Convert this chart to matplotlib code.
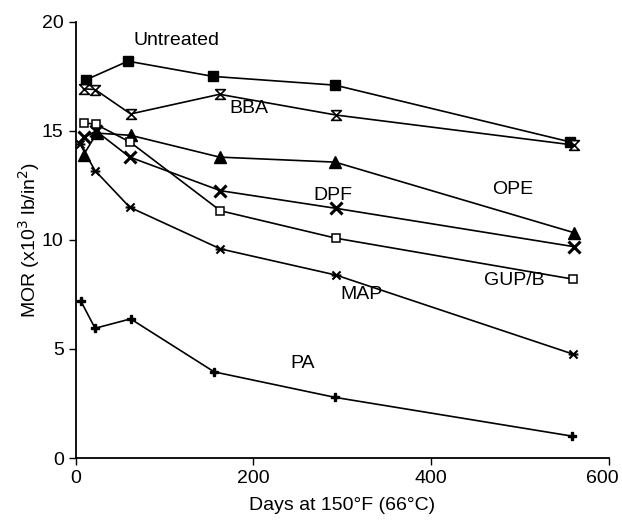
import matplotlib
matplotlib.use("Agg")
import matplotlib.pyplot as plt
import matplotlib.transforms as mtransforms
from matplotlib.path import Path

plt.rcParams['font.family'] = ['Liberation Sans', 'DejaVu Sans']

# days at 150F and MOR values (x10^3 lb/in^2)
untreated_days = [12, 59, 155, 292, 556]
untreated_mor = [17.35, 18.2, 17.5, 17.1, 14.5]

bba_days = [9, 22, 62, 162, 293, 561]
bba_mor = [16.93, 16.9, 15.78, 16.68, 15.73, 14.35]

ope_days = [9, 24, 62, 162, 292, 561]
ope_mor = [13.9, 14.9, 14.8, 13.8, 13.57, 10.33]

dpf_days = [10, 23, 61, 163, 293, 561]
dpf_mor = [14.7, 15.0, 13.8, 12.26, 11.45, 9.69]

gup_days = [9, 23, 61, 163, 293, 560]
gup_mor = [15.38, 15.3, 14.5, 11.34, 10.08, 8.2]

map_days = [5, 22, 61, 163, 293, 560]
map_mor = [14.4, 13.18, 11.5, 9.59, 8.39, 4.76]

pa_days = [6, 22, 62, 156, 292, 559]
pa_mor = [7.2, 5.95, 6.38, 3.95, 2.78, 1.0]

# label text and where it sits (data coords)
labels = ["Untreated", "BBA", "DPF", "OPE", "GUP/B", "MAP", "PA"]
label_x = [114, 195, 290, 492, 494, 322, 255]
label_y = [19.15, 16.04, 12.06, 12.33, 8.13, 7.52, 4.34]

# custom markers
hourglass = Path([(-1, 1), (1, 1), (-1, -1), (1, -1), (-1, 1)],
                 [Path.MOVETO, Path.LINETO, Path.LINETO, Path.LINETO, Path.CLOSEPOLY])
star6 = Path([(-1, -1), (1, 1), (-1, 1), (1, -1), (-1.2, 0), (1.2, 0)],
             [Path.MOVETO, Path.LINETO, Path.MOVETO, Path.LINETO, Path.MOVETO, Path.LINETO])

fig = plt.figure(figsize=(6.22, 5.22), dpi=100)
ax = fig.add_axes([0.1214, 0.1226, 0.979 - 0.1214, 0.958 - 0.1226])

lw = 1.2
ax.plot(untreated_days, untreated_mor, color='black', lw=lw, marker='s', ms=7, mfc='black')
ax.plot(bba_days, bba_mor, color='black', lw=lw, marker=hourglass, ms=7, mfc='white', mew=1.2)
ax.plot(ope_days, ope_mor, color='black', lw=lw, marker='^', ms=9, mfc='black')
ax.plot(dpf_days, dpf_mor, color='black', lw=lw, marker='x', ms=8, mew=2.2)
ax.plot(gup_days, gup_mor, color='black', lw=lw, marker='s', ms=6, mfc='white', mew=1.1)
ax.plot(map_days, map_mor, color='black', lw=lw, marker=star6, ms=7, mew=1.5)
ax.plot(pa_days, pa_mor, color='black', lw=lw, marker='P', ms=6, mfc='black')

for t, x, y in zip(labels, label_x, label_y):
    ax.text(x, y, t, fontsize=14, ha='center', va='center')

ax.set_xlim(0, 600)
ax.set_ylim(0, 20)
ax.set_xticks([0, 200, 400, 600])
ax.set_yticks([0, 5, 10, 15, 20])
ax.tick_params(labelsize=14, direction='out', length=5, width=1)
ax.spines['top'].set_visible(False)
ax.spines['right'].set_visible(False)
ax.spines['left'].set_linewidth(1.3)
ax.spines['bottom'].set_linewidth(1.3)

# the last x tick label sits a little left of its tick, as in the original
last = ax.get_xticklabels()[-1]
last.set_transform(last.get_transform() + mtransforms.ScaledTranslation(-7 / 100, 0, fig.dpi_scale_trans))

ax.set_xlabel("Days at 150°F (66°C)", fontsize=14)
ax.set_ylabel("MOR (x10$^3$ lb/in$^2$)", fontsize=14)
ax.yaxis.set_label_coords(-0.062, 0.5)
ax.xaxis.set_label_coords(0.5, -0.09)

fig.savefig("out.png", dpi=100)
